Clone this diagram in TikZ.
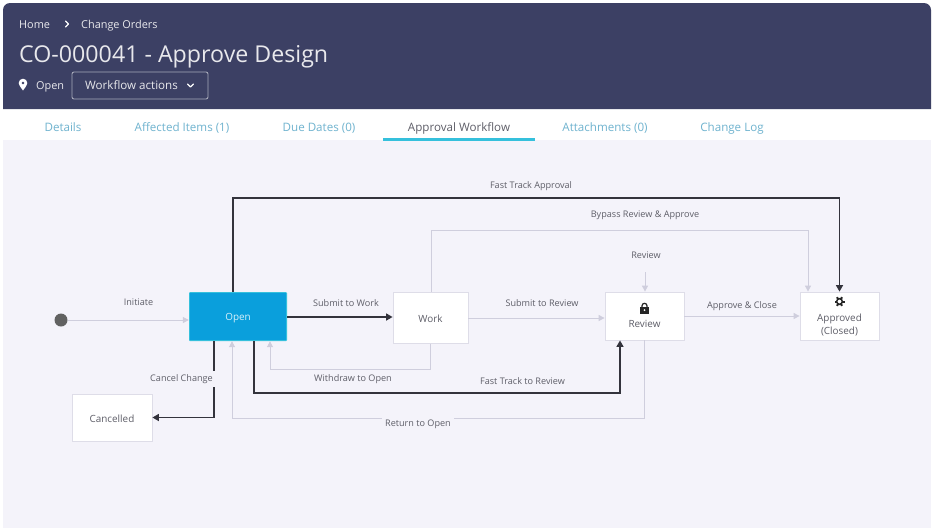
\documentclass[tikz,border=0pt]{standalone}
\usepackage{fontspec}
\setmainfont{Open Sans}
\usetikzlibrary{arrows.meta,calc}
\definecolor{hdr}{HTML}{3C4064}
\definecolor{pagebg}{HTML}{F4F3FA}
\definecolor{edgelight}{HTML}{CFCEDD}
\definecolor{edgedark}{HTML}{33333C}
\definecolor{boxline}{HTML}{DEDDE8}
\definecolor{txt}{HTML}{5E5E68}
\definecolor{tabblue}{HTML}{6FB3CF}
\definecolor{tabline}{HTML}{35C0DC}
\definecolor{bluebox}{HTML}{0A9FDC}
\tikzset{
  x=1pt,y=-1pt,
  state/.style={draw=boxline,fill=white,line width=.8pt,inner sep=0pt,align=center,text=txt,font=\fontsize{9.9}{12.5}\selectfont,text height=.9em,text depth=0em},
  light/.style={draw=edgelight,line width=1pt,-{Triangle[length=6pt,width=6pt]}},
  dark/.style={draw=edgedark,line width=1.5pt,-{Triangle[length=6.5pt,width=7pt]}},
  lab/.style={text=txt,font=\fontsize{9.1}{10}\selectfont,inner sep=0pt,anchor=base},
  gaplab/.style={lab,fill=pagebg,inner xsep=3.5pt,inner ysep=3.5pt},
  tab/.style={text=tabblue,font=\fontsize{11.6}{12}\selectfont,inner sep=0pt,anchor=base},
  head/.style={text=white!88!hdr,inner sep=0pt,anchor=base west,font=\fontsize{10.9}{12}\selectfont},
  chev/.style={draw=white,line width=1.2pt,line cap=round,line join=round}
}
\begin{document}
\begin{tikzpicture}
\useasboundingbox (0,0) rectangle (936,531);
\fill[white] (0,0) rectangle (936,531);
% card
\fill[pagebg] (3,140) rectangle (931,528);
\fill[white] (3,109) rectangle (931,140);
\fill[hdr] (3,109) -- (3,10) arc[start angle=180,end angle=270,radius=7] -- (924,3) arc[start angle=270,end angle=360,radius=7] -- (931,109) -- cycle;
% header
\node[head] (home) at (19,28) {Home};
\draw[chev] (65.5,21) -- (68.5,24) -- (65.5,27);
\node[head] (orders) at (81,28) {Change Orders};
\node[head,font=\fontsize{23.2}{26}\selectfont] (title) at (19,62) {CO-000041 - Approve Design};
\fill[white,even odd rule] (23,90.5) .. controls (20,86.5) and (18.7,84.5) .. (18.7,83) arc[start angle=180,end angle=360,radius=4.3] .. controls (27.3,84.5) and (26,86.5) .. (23,90.5) -- cycle (23,83) circle[radius=1.6];
\node[head] (state) at (36,89.5) {Open};
\node[draw=white!55!hdr,line width=.9pt,rounded corners=2pt,minimum width=136pt,minimum height=27pt,inner sep=0pt] (actions) at (140,85.5) {};
\node[head,font=\fontsize{11.6}{12}\selectfont] (actionstext) at (85,89.5) {Workflow actions};
\draw[chev] (187.5,84) -- (190.5,87) -- (193.5,84);
% tabs
\node[tab] (t1) at (63,131) {Details};
\node[tab] (t2) at (182,131) {Affected Items (1)};
\node[tab] (t3) at (319,131) {Due Dates (0)};
\node[tab,text=txt] (t4) at (459,131) {Approval Workflow};
\node[tab] (t5) at (605,131) {Attachments (0)};
\node[tab] (t6) at (732,131) {Change Log};
\fill[tabline] (383,138.2) rectangle (535,140.6);
% states
\node[fill=black!62,circle,minimum size=13pt,inner sep=0pt] (start) at (61,320) {};
\node[fill=tabline,inner sep=0pt,rounded corners=1pt,minimum width=98pt,minimum height=49pt] (open) at (238,316.5) {};
\node[state,draw=none,fill=bluebox,text=white!85!bluebox,minimum width=96.6pt,minimum height=47.6pt,text height=.82em] (openface) at (open.center) {Open};
\node[state,minimum width=75pt,minimum height=51pt] (work) at (430.5,318) {Work};
\node[state,minimum width=79pt,minimum height=48pt] (review) at (644.5,316) {};
\node[state,minimum width=79pt,minimum height=48pt] (approved) at (839.5,316) {};
\node[state,minimum width=80pt,minimum height=47pt] (cancelled) at (112,417.5) {Cancelled};
\node[text=txt,inner sep=0pt,font=\fontsize{9.9}{12}\selectfont] (reviewtext) at (644.5,324) {Review};
\node[text=txt,inner sep=0pt,align=center,font=\fontsize{9.9}{13.7}\selectfont] (approvedtext) at (839.5,325) {Approved\\(Closed)};
% lock
\fill[black!85] (640.3,307) rectangle (648.7,313.5);
\draw[black!85,line width=1.2pt] (642,307) -- (642,305.8) arc[start angle=180,end angle=360,radius=2.5] -- (647,307);
\fill[white] (644.5,310.2) circle[radius=1];
% gear
\foreach \a in {0,60,...,300}{\draw[black!85,line width=2pt] ($(839.5,301.5)+(\a:2.8)$) -- ($(839.5,301.5)+(\a:5)$);}
\draw[black!85,line width=1.5pt] (839.5,301.5) circle[radius=2.8];
% connector ends
\coordinate (reviewin) at (645,272);
% light edges
\draw[light] (start) -- (start -| open.west);
\draw[light] (work.east) -- (review.west |- work.east);
\draw[light] (review.east) -- (approved.west);
\draw[light] (reviewin) -- (reviewin |- review.north);
\draw[light] ([xshift=.5pt]work.north) -- ++(0,-62) -| ([xshift=-31.5pt]approved.north);
\draw[light] (work.south) -- ++(0,25.5) -| ([xshift=32pt]open.south);
\draw[light] (review.south) -- ++(0,78) -| ([xshift=-6pt]open.south);
% dark edges
\draw[dark] (open.east |- 0,317) -- (work.west |- 0,317);
\draw[dark] ([xshift=-5pt]open.north) -- ++(0,-94) -| (approved.north);
\draw[dark] ([xshift=16pt]open.south) -- ++(0,52) -| ([xshift=-24.5pt]review.south);
\draw[dark] ([xshift=-24pt]open.south) |- (cancelled.east);
% labels
\node[lab] (l1) at (531,188.5) {Fast Track Approval};
\node[lab] (l2) at (645,217.5) {Bypass Review \& Approve};
\node[lab] (l3) at (646,258) {Review};
\node[lab] (l4) at (138.5,305.5) {Initiate};
\node[lab] (l5) at (346,306.5) {Submit to Work};
\node[lab] (l6) at (542,306.5) {Submit to Review};
\node[lab] (l7) at (742,308.5) {Approve \& Close};
\node[lab] (l8) at (353,381.5) {Withdraw to Open};
\node[lab] (l9) at (522.5,384) {Fast Track to Review};
\node[gaplab] (l10) at (418,426.5) {Return to Open};
\node[gaplab] (l11) at (181.5,381.5) {Cancel Change};
\end{tikzpicture}
\end{document}
